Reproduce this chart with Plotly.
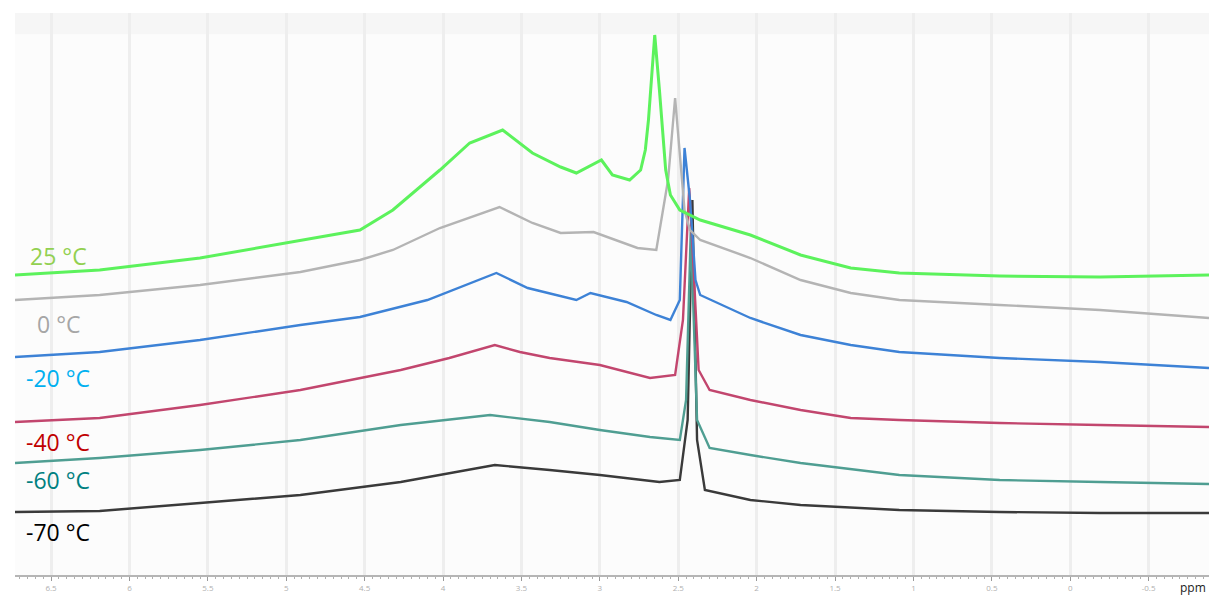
import plotly.graph_objects as go

# ---- data (ppm vs. intensity, arbitrary units, stacked offsets as shown) ----
ppm_25 = [6.73, 6.19, 5.55, 4.91, 4.53, 4.32, 4.02, 3.83, 3.62, 3.43, 3.25, 3.15, 2.99, 2.92,
          2.81, 2.74, 2.71, 2.69, 2.65, 2.62, 2.58, 2.55, 2.49, 2.36, 2.04, 1.72, 1.40, 1.09,
          0.45, -0.19, -0.885]
int_25 = [300, 305, 317, 335, 345, 365, 405, 432, 445, 422, 408, 402, 415, 400,
          395, 405, 425, 455, 540, 485, 405, 380, 365, 355, 340, 320, 307, 302,
          299, 298, 300]

ppm_0 = [6.73, 6.19, 5.55, 4.91, 4.53, 4.32, 4.02, 3.64, 3.43, 3.25, 3.04, 2.76, 2.64, 2.565,
         2.52, 2.49, 2.46, 2.425, 2.36, 2.04, 1.72, 1.40, 1.09, 0.45, -0.19, -0.885]
int_0 = [275, 280, 290, 303, 315, 325, 347, 368, 352, 342, 343, 327, 325, 395,
         477, 425, 365, 345, 335, 317, 295, 282, 275, 270, 265, 257]

ppm_m20 = [6.73, 6.19, 5.55, 4.91, 4.53, 4.10, 3.66, 3.46, 3.15, 3.06, 2.83, 2.64, 2.55, 2.49,
           2.46, 2.425, 2.39, 2.36, 2.04, 1.72, 1.40, 1.09, 0.45, -0.19, -0.885]
int_m20 = [218, 223, 235, 250, 258, 275, 302, 287, 275, 282, 273, 260, 255, 275,
           427, 375, 295, 280, 257, 240, 230, 223, 217, 213, 207]

ppm_m40 = [6.73, 6.19, 5.55, 4.91, 4.27, 3.96, 3.67, 3.51, 3.32, 3.00, 2.68, 2.52, 2.47, 2.43,
           2.405, 2.37, 2.30, 2.04, 1.72, 1.40, 1.09, 0.45, -0.19, -0.885]
int_m40 = [153, 157, 170, 185, 205, 217, 230, 223, 217, 210, 197, 200, 255, 387,
           315, 205, 185, 175, 165, 157, 155, 152, 150, 148]

ppm_m60 = [6.73, 6.19, 5.55, 4.91, 4.27, 3.70, 3.32, 3.00, 2.68, 2.49, 2.45, 2.42, 2.38, 2.30,
           2.04, 1.72, 1.09, 0.45, -0.19, -0.885]
int_m60 = [112, 117, 125, 135, 150, 160, 153, 145, 138, 135, 175, 345, 155, 127,
           120, 112, 100, 95, 93, 91]

ppm_m70 = [6.73, 6.19, 5.55, 4.91, 4.27, 3.67, 3.32, 3.00, 2.62, 2.49, 2.44, 2.41, 2.38, 2.33,
           2.04, 1.72, 1.09, 0.45, -0.19, -0.885]
int_m70 = [63, 64, 72, 80, 93, 110, 105, 100, 93, 95, 155, 375, 135, 85,
           75, 70, 65, 63, 62, 62]

labels = ["25 °C", "0 °C", "-20 °C", "-40 °C", "-60 °C", "-70 °C"]
label_colors = ["#92d050", "#a6a6a6", "#00b0f0", "#c00000", "#008080", "#000000"]
line_colors = ["#5cf25c", "#b4b4b4", "#3d82d6", "#c2466e", "#4f9e92", "#3a3a3a"]
label_y = [319, 251, 197, 133, 95, 43]

tick_vals = [6.5, 6.0, 5.5, 5.0, 4.5, 4.0, 3.5, 3.0, 2.5, 2.0, 1.5, 1.0, 0.5, 0.0, -0.5]
tick_text = ["6.5", "6", "5.5", "5", "4.5", "4", "3.5", "3", "2.5", "2", "1.5", "1", "0.5", "0", "-0.5"]

series = [(ppm_25, int_25), (ppm_0, int_0), (ppm_m20, int_m20),
          (ppm_m40, int_m40), (ppm_m60, int_m60), (ppm_m70, int_m70)]

fig = go.Figure()
for i in reversed(range(len(series))):
    xs, ys = series[i]
    fig.add_trace(go.Scatter(x=xs, y=ys, mode="lines",
                             line=dict(color=line_colors[i], width=3.0 if i == 0 else 2.4),
                             name=labels[i], showlegend=False, hoverinfo="skip"))

for i, lab in enumerate(labels):
    fig.add_annotation(x=6.455, y=label_y[i], xref="x", yref="y", text=lab,
                       showarrow=False, xanchor="center", yanchor="middle",
                       font=dict(family="Open Sans, Liberation Sans, sans-serif", size=23,
                                 color=label_colors[i]))

fig.add_annotation(x=1.0, y=0, xref="paper", yref="paper", text="ppm", showarrow=False,
                   xanchor="right", yanchor="top", yshift=-2, xshift=-1,
                   font=dict(family="Open Sans, sans-serif", size=12, color="#222"))

fig.update_xaxes(range=[6.73, -0.885], tickvals=tick_vals, ticktext=tick_text,
                 automargin=False,
                 showgrid=True, gridcolor="#eeeeee", gridwidth=3,
                 showline=True, linecolor="#b5b5b5", linewidth=2,
                 ticks="outside", ticklen=4, tickcolor="#9a9a9a", tickwidth=1,
                 minor=dict(dtick=0.05, ticks="outside", ticklen=2, tickcolor="#b0b0b0",
                            showgrid=False),
                 tickfont=dict(size=8, color="#b0b0b0", family="Open Sans, sans-serif"),
                 zeroline=False)
fig.update_yaxes(range=[0, 562], visible=False, showgrid=False, zeroline=False,
                 automargin=False)

fig.update_layout(width=1209, height=595, margin=dict(l=15, r=0, t=13, b=20),
                  paper_bgcolor="white", plot_bgcolor="#fcfcfc",
                  shapes=[dict(type="rect", xref="paper", yref="paper", x0=0, x1=1,
                               y0=0.962, y1=1, fillcolor="#f6f6f6", line_width=0, layer="below")])

fig.write_html("out.html", config={"displayModeBar": False},
               post_script="document.body.style.margin='0';document.body.style.overflow='hidden';")
